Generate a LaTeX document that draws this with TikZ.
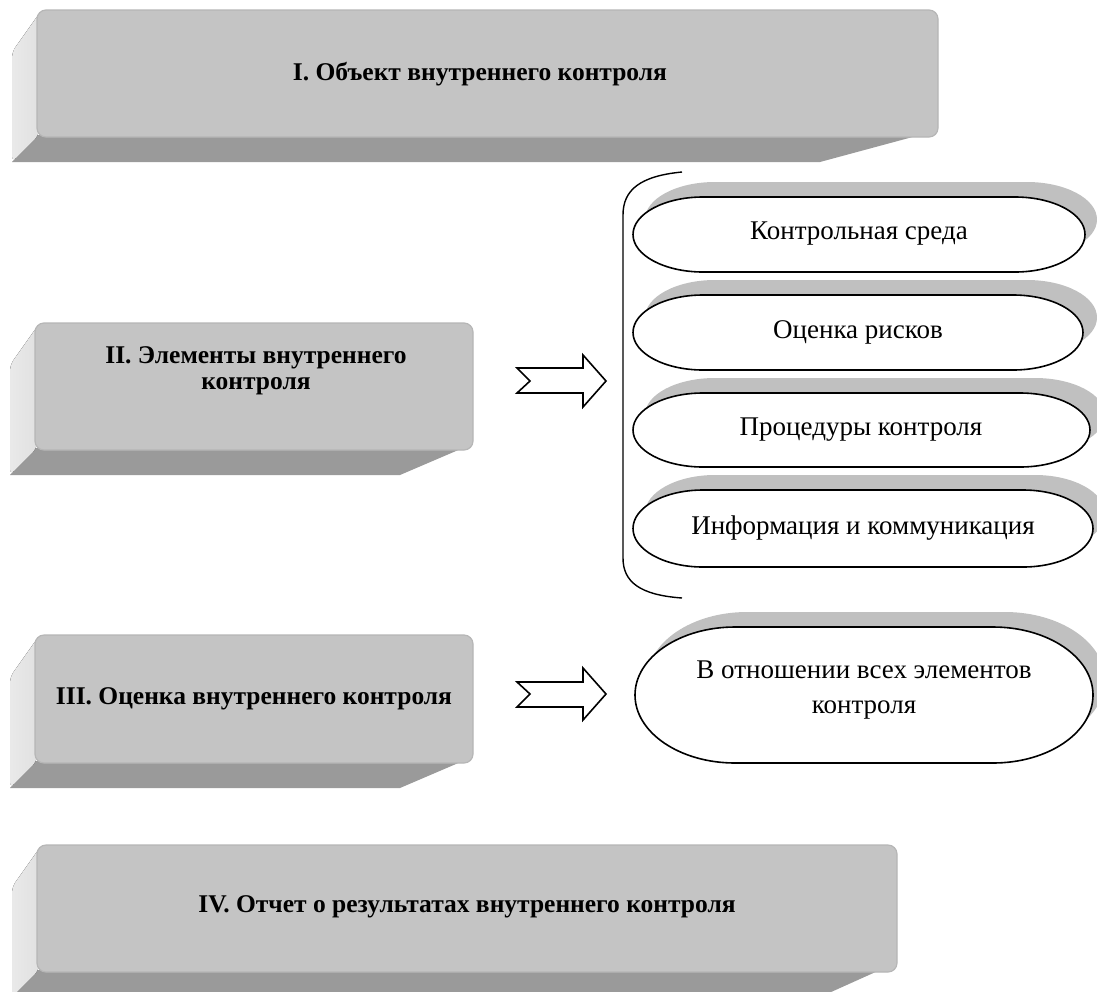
\documentclass[tikz,border=0pt]{standalone}
\usepackage{fontspec}
\setmainfont{Liberation Serif}
\definecolor{frontc}{HTML}{C4C4C4}
\definecolor{frontedge}{HTML}{B6B6B6}
\definecolor{sidec}{HTML}{E0E0E0}
\definecolor{bottomc}{HTML}{9A9A9A}
\definecolor{shadowc}{HTML}{C0C0C0}
\tikzset{
  frontface/.style={fill=frontc, draw=frontedge, line width=1.2pt, rounded corners=9pt, inner sep=0pt, outer sep=0pt},
  leftface/.style={left color=sidec!70!white, right color=sidec, rounded corners=6pt},
  bottomface/.style={fill=bottomc},
  boxtext/.style={font=\fontsize{25.5}{26}\selectfont\bfseries, align=center, text=black},
  ovaltext/.style={font=\fontsize{27}{35}\selectfont, align=center, text=black},
  ovalline/.style={draw=black, line width=1.6pt, fill=white},
  ovalshadow/.style={fill=shadowc},
  bigarrow/.style={draw=black, line width=1.6pt, fill=white, line join=miter},
  bracket/.style={draw=black, line width=1.4pt}
}
% #1 x0, #2 y0, #3 x1, #4 y1, #5 slope start x, #6 slope end x, #7 name
\newcommand\threedbox[7]{%
  \fill[bottomface] (#1,#4-2) -- (#1-25,#4+25) -- (#6,#4+25) -- (#5,#4-2) -- cycle;
  \fill[leftface] (#1+4,#2+1) -- (#1-25,#2+42) -- (#1-25,#4+25) -- (#1+2,#4-2) -- cycle;
  \node[frontface, anchor=north west, minimum width=#3-#1, minimum height=#4-#2] (#7) at (#1,#2) {};
}
% #1 x0, #2 y0, #3 x1, #4 y1, #5 rx
\newcommand\ovalpath[6]{%
  \path[#6] ({#1+#5},#2) -- ({#3-#5},#2)
     arc[start angle=-90, end angle=90, x radius=#5, y radius={(#4-#2)/2}]
     -- ({#1+#5},#4)
     arc[start angle=90, end angle=270, x radius=#5, y radius={(#4-#2)/2}] -- cycle;
}
\begin{document}
\begin{tikzpicture}[x=1pt,y=-1pt]
\useasboundingbox (0,0) rectangle (1097,991);
\clip (0,0) rectangle (1097,991);

% boxes
\threedbox{37}{10}{938}{137}{920}{820}{b1}
\node[boxtext] (t1) at (480,74) {I. Объект внутреннего контроля};

\threedbox{35}{323}{473}{450}{463}{400}{b2}
\node[boxtext] (t2) at (256,371) {II. Элементы внутреннего\\контроля};

\threedbox{35}{635}{473}{763}{463}{400}{b3}
\node[boxtext] (t3) at (254,699) {III. Оценка внутреннего контроля};

\threedbox{37}{845}{897}{972}{880}{820}{b4}
\node[boxtext] (t4) at (467,907) {IV. Отчет о результатах внутреннего контроля};

% bracket
\coordinate (brtop) at (682,172);
\coordinate (brbot) at (682,598);
\draw[bracket] (brtop) .. controls (640,176) and (623,190) .. (623,215)
   -- (623,558) .. controls (623,582) and (640,595) .. (brbot);

% ovals
\ovalpath{645}{182}{1097}{257}{70}{ovalshadow}
\ovalpath{633}{197}{1085}{272}{70}{ovalline}
\node[ovaltext] (e1) at (859,234) {Контрольная среда};

\ovalpath{645}{280}{1097}{355}{70}{ovalshadow}
\ovalpath{633}{295}{1083}{370}{70}{ovalline}
\node[ovaltext] (e2) at (858,332) {Оценка рисков};

\ovalpath{645}{378}{1105}{452}{70}{ovalshadow}
\ovalpath{633}{393}{1090}{467}{70}{ovalline}
\node[ovaltext] (e3) at (861,430) {Процедуры контроля};

\ovalpath{645}{475}{1105}{552}{70}{ovalshadow}
\ovalpath{633}{490}{1093}{567}{70}{ovalline}
\node[ovaltext] (e4) at (863,528) {Информация и коммуникация};

\ovalpath{647}{612}{1105}{748}{100}{ovalshadow}
\ovalpath{635}{627}{1093}{763}{100}{ovalline}
\node[ovaltext] (e5) at (864,690) {В отношении всех элементов\\контроля};

% arrows
\draw[bigarrow] (517,368) -- (583,368) -- (583,355) -- (606,381) -- (583,407) -- (583,393) -- (517,393) -- (530,381) -- cycle;
\draw[bigarrow] (517,682) -- (583,682) -- (583,668) -- (606,694) -- (583,720) -- (583,707) -- (517,707) -- (530,694) -- cycle;
\end{tikzpicture}
\end{document}
